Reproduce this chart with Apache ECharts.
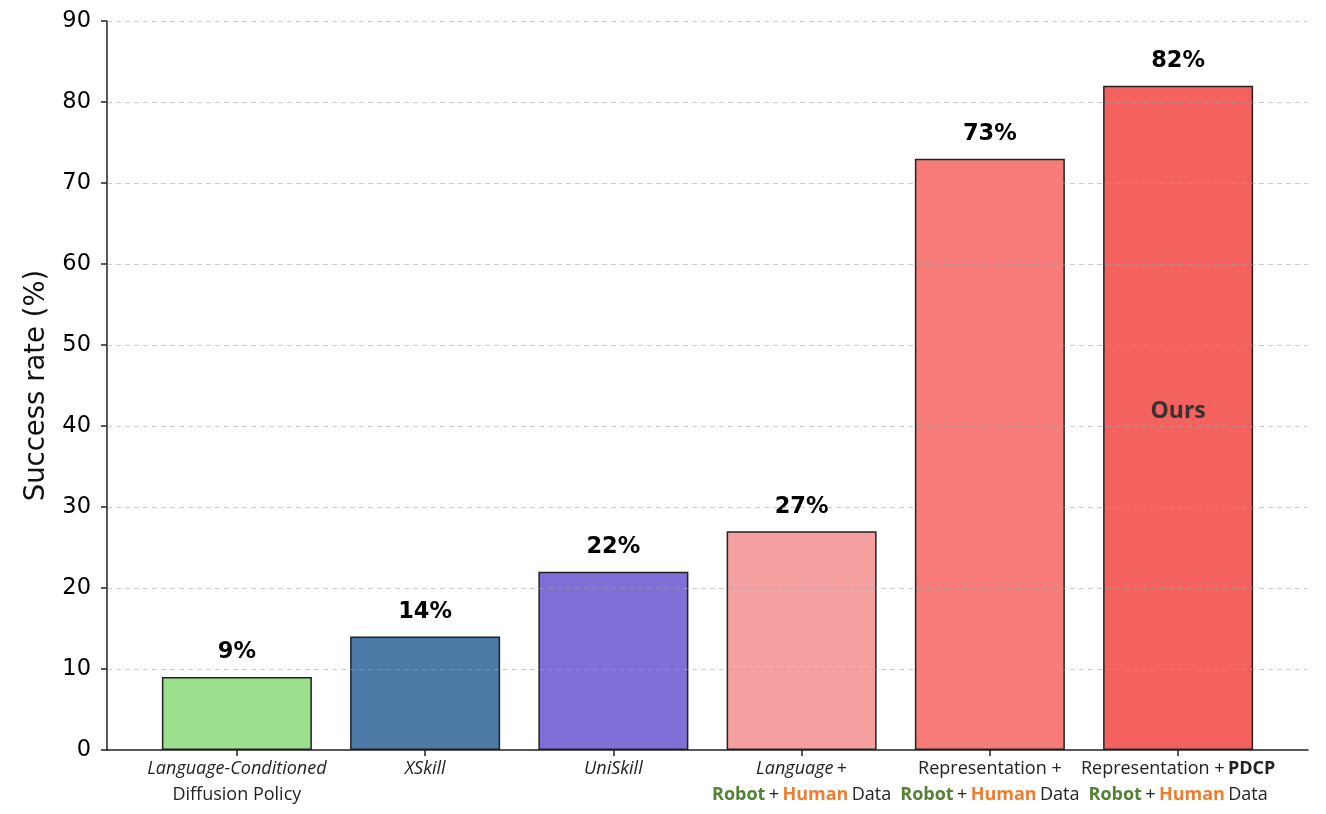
<!DOCTYPE html>
<html>
<head>
<meta charset="utf-8">
<script src="https://cdn.jsdelivr.net/npm/echarts@6/dist/echarts.min.js"></script>
<style>
  html, body { margin: 0; padding: 0; background: #fff; }
  #main { width: 1326px; height: 814px; }
</style>
</head>
<body>
<div id="main"></div>
<script>
// method labels (rich text markup), one per bar
var categories = [
  "{i|Language-Conditioned}\n{n|Diffusion Policy}",
  "{i|XSkill}",
  "{i|UniSkill}",
  "{i|Language} {n|+}\n{g|Robot} {n|+} {o|Human} {n|Data}",
  "{n|Representation +}\n{g|Robot} {n|+} {o|Human} {n|Data}",
  "{n|Representation +} {b|PDCP}\n{g|Robot} {n|+} {o|Human} {n|Data}"
];
var successRate = [9, 14, 22, 27, 73, 82];
var barColors = ["#9bde8b", "#4d79a6", "#7f70d7", "#f5a1a1", "#f77b79", "#f4625f"];
var highlightIndex = 5;
var highlightText = "Ours";
var yTicks = [10, 20, 30, 40, 50, 60, 70, 80, 90];

var myChart = echarts.init(document.getElementById("main"));

var catIdx = categories.map(function (c, i) { return i; });

var barData = successRate.map(function (v, i) {
  return {
    value: [i, v],
    itemStyle: { color: barColors[i] }
  };
});

var oursData = successRate.map(function (v, i) {
  return i === highlightIndex ? [i, v] : null;
});

var lbl = { fontFamily: "Open Sans", fontSize: 18, color: "#222", lineHeight: 26 };

myChart.setOption({
  animation: false,
  grid: { left: 107, right: 18, top: 21, bottom: 64 },
  xAxis: {
    type: "value",
    min: -0.69,
    max: 5.69,
    splitLine: { show: false },
    axisLine: { show: true, onZero: false, lineStyle: { color: "#222", width: 1.5 } },
    axisTick: { show: true, customValues: catIdx, length: 6, lineStyle: { color: "#222", width: 1.5 } },
    axisLabel: {
      customValues: catIdx,
      hideOverlap: false,
      showMinLabel: true,
      showMaxLabel: true,
      margin: 6,
      lineHeight: 26,
      formatter: function (v) { return categories[Math.round(v)]; },
      rich: {
        i: Object.assign({}, lbl, { fontStyle: "italic" }),
        n: lbl,
        b: Object.assign({}, lbl, { fontWeight: "bold" }),
        g: Object.assign({}, lbl, { fontWeight: "bold", color: "#538135" }),
        o: Object.assign({}, lbl, { fontWeight: "bold", color: "#ed7d31" })
      }
    }
  },
  yAxis: {
    type: "value",
    min: 0,
    max: 90,
    interval: 10,
    name: "Success rate (%)",
    nameLocation: "middle",
    nameGap: 56,
    nameTextStyle: { fontFamily: "DejaVu Sans", fontSize: 27.5, color: "#111" },
    axisLine: { show: true, onZero: false, lineStyle: { color: "#222", width: 1.5 } },
    axisTick: { show: true, length: 6, lineStyle: { color: "#222", width: 1.5 } },
    axisLabel: { fontFamily: "DejaVu Sans", fontSize: 22.5, color: "#000", margin: 16 },
    splitLine: { show: false }
  },
  series: [
    {
      type: "bar",
      data: barData,
      barWidth: 150,
      itemStyle: { borderColor: "#222", borderWidth: 1.5 },
      label: {
        show: true,
        position: "top",
        distance: 13,
        formatter: function (p) { return p.value[1] + "%"; },
        fontFamily: "DejaVu Sans",
        fontWeight: "bold",
        fontSize: 22.5,
        color: "#000"
      },
      markLine: {
        silent: true,
        symbol: "none",
        label: { show: false },
        lineStyle: { type: [5, 4], color: "rgba(160,160,160,0.55)", width: 1 },
        data: yTicks.map(function (t) { return { yAxis: t }; })
      },
      z: 2
    },
    {
      type: "bar",
      data: oursData,
      barWidth: 150,
      barGap: "-100%",
      itemStyle: { color: "transparent" },
      label: {
        show: true,
        position: "inside",
        offset: [0, -6],
        formatter: highlightText,
        fontFamily: "Open Sans",
        fontWeight: "bold",
        fontSize: 23,
        color: "#333"
      },
      z: 3
    }
  ]
});
</script>
</body>
</html>
